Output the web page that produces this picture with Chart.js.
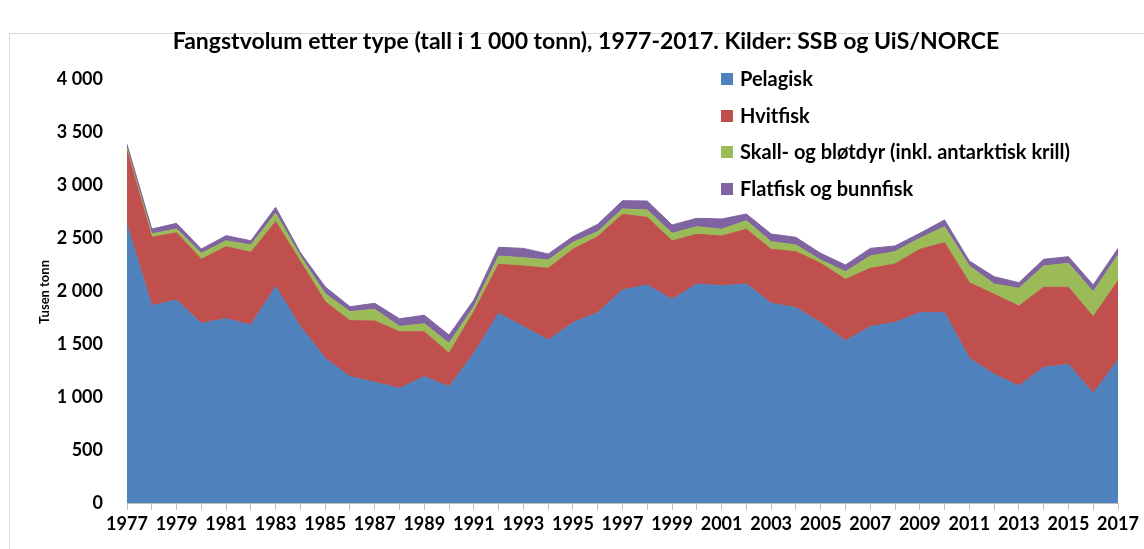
<!DOCTYPE html>
<html>
<head>
<meta charset="utf-8">
<script src="https://cdn.jsdelivr.net/npm/chart.js@4"></script>
<style>
  html, body { margin: 0; padding: 0; background: #fff; }
  #wrap { position: relative; width: 1144px; height: 549px; }
</style>
</head>
<body>
<div id="wrap"><canvas id="c" width="1144" height="549"></canvas></div>
<script>
const years = ["1977","1978","1979","1980","1981","1982","1983","1984","1985","1986","1987","1988","1989","1990","1991","1992","1993","1994","1995","1996","1997","1998","1999","2000","2001","2002","2003","2004","2005","2006","2007","2008","2009","2010","2011","2012","2013","2014","2015","2016","2017"];
const pelagisk = [2623,1861,1915,1695,1739,1679,2041,1664,1365,1192,1138,1082,1192,1097,1412,1789,1664,1538,1701,1795,2009,2057,1921,2066,2050,2066,1884,1843,1701,1531,1664,1704,1795,1795,1365,1214,1104,1280,1308,1035,1349];
const hvitfisk = [700,645,635,604,679,686,613,613,534,528,579,534,424,315,393,463,572,676,692,718,714,638,551,469,469,516,509,528,560,579,550,551,598,661,714,755,754,755,727,723,748];
const skalldyr = [20,32,35,56,56,69,79,50,75,85,110,50,75,94,47,78,78,78,66,47,51,69,72,72,63,81,72,63,31,72,116,116,104,151,157,97,167,201,226,236,243];
const flatfisk = [40,47,53,41,48,40,56,35,65,47,57,72,80,79,63,82,88,57,54,69,78,85,79,79,97,63,73,72,63,63,72,54,47,63,47,69,54,63,63,63,62];
const seriesNames = ["Pelagisk","Hvitfisk","Skall- og bløtdyr (inkl. antarktisk krill)","Flatfisk og bunnfisk"];
const seriesColors = ["#4f81bd","#c0504d","#9bbb59","#8064a2"];
const yTicks = [0,500,1000,1500,2000,2500,3000,3500,4000];
const titleText = "Fangstvolum etter type (tall i 1 000 tonn), 1977-2017. Kilder: SSB og UiS/NORCE";
const yTitle = "Tusen tonn";

const FONT = "Lato, 'Liberation Sans', sans-serif";

const seriesData = [pelagisk, hvitfisk, skalldyr, flatfisk];
const datasets = seriesData.map((d, i) => ({
  label: seriesNames[i],
  data: d,
  backgroundColor: seriesColors[i],
  borderColor: seriesColors[i],
  borderWidth: 1,
  pointRadius: 0,
  tension: 0,
  fill: i === 0 ? 'origin' : '-1'
}));

function fmt(v) {
  return String(v).replace(/\B(?=(\d{3})+(?!\d))/g, " ");
}

const decor = {
  id: 'decor',
  beforeDraw(chart) {
    const ctx = chart.ctx;
    ctx.save();
    ctx.fillStyle = '#fff';
    ctx.fillRect(0, 0, chart.width, chart.height);
    ctx.strokeStyle = '#d9d9d9';
    ctx.lineWidth = 1;
    ctx.beginPath();
    ctx.moveTo(9.5, chart.height);
    ctx.lineTo(9.5, 33.5);
    ctx.lineTo(chart.width, 33.5);
    ctx.stroke();
    ctx.restore();
  },
  afterDraw(chart) {
    const ctx = chart.ctx;
    ctx.save();
    // title
    ctx.fillStyle = '#000';
    ctx.font = "bold 23px " + FONT;
    ctx.textAlign = 'center';
    ctx.textBaseline = 'middle';
    ctx.fillText(titleText, 586, 42);
    // y title
    ctx.save();
    ctx.translate(45, 292);
    ctx.rotate(-Math.PI / 2);
    ctx.font = "bold 13px " + FONT;
    ctx.fillText(yTitle, 0, 0);
    ctx.restore();
    // legend
    const ly = [79, 116, 152, 189];
    ctx.textAlign = 'left';
    ctx.font = "bold 20px " + FONT;
    chart.data.datasets.forEach((ds, i) => {
      ctx.fillStyle = ds.backgroundColor;
      ctx.fillRect(721, ly[i] - 6, 12, 12);
      ctx.fillStyle = '#000';
      ctx.fillText(ds.label, 740, ly[i] + 1);
    });
    ctx.restore();
  }
};

new Chart(document.getElementById('c'), {
  type: 'line',
  data: { labels: years, datasets },
  plugins: [decor],
  options: {
    responsive: false,
    animation: false,
    layout: { padding: { top: 79, right: 26, left: 0, bottom: 0 } },
    plugins: {
      legend: { display: false },
      title: { display: false },
      tooltip: { enabled: false }
    },
    scales: {
      x: {
        type: 'category',
        offset: false,
        grid: {
          display: true,
          drawOnChartArea: false,
          drawTicks: true,
          tickLength: 7,
          color: '#bfbfbf'
        },
        border: { display: true, color: '#bfbfbf', width: 1 },
        ticks: {
          autoSkip: false,
          maxRotation: 0,
          minRotation: 0,
          padding: 3,
          color: '#000',
          font: { family: FONT, size: 18, weight: 'bold' },
          callback: function(val, idx) { return idx % 2 === 0 ? this.getLabelForValue(val) : ''; }
        },
        afterFit(scale) { scale.height = 46; }
      },
      y: {
        stacked: true,
        min: 0,
        max: 4000,
        afterBuildTicks(scale) { scale.ticks = yTicks.map(v => ({ value: v })); },
        grid: { display: false, drawTicks: false },
        border: { display: false },
        ticks: {
          padding: 24,
          color: '#000',
          font: { family: FONT, size: 18, weight: 'bold' },
          callback: v => fmt(v)
        },
        afterFit(scale) { scale.width = 127; }
      }
    }
  }
});
</script>
</body>
</html>
